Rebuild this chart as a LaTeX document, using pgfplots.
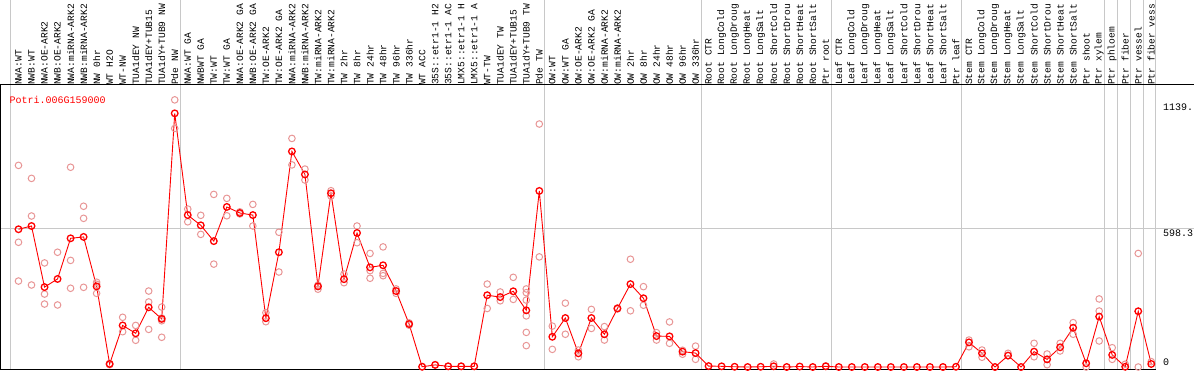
\documentclass[border=0pt]{standalone}
\usepackage{pgfplots}
\pgfplotsset{compat=1.18}
\usepackage{fontspec}
\setmonofont{Liberation Mono}
\definecolor{rep}{RGB}{232,150,150}
\definecolor{grid}{RGB}{200,200,200}
\newcommand{\lf}{\ttfamily\fontsize{10}{12}\selectfont}
\newcommand{\tf}{\ttfamily\fontsize{9.6}{12}\selectfont}
\begin{document}
\begin{tikzpicture}
\useasboundingbox (0,0) rectangle (1194pt,370pt);
\clip (0,0) rectangle (1194pt,370pt);
\begin{axis}[at={(0pt,1pt)}, anchor=south west, scale only axis,
  width=1156pt, height=284pt,
  xmin=-1.42, xmax=87.36, ymin=-8.6, ymax=1214,
  clip=false, axis line style={draw=none},
  ytick=\empty,
  xtick={0,...,87},
  xticklabel pos=upper,
  major tick length=0pt,
  xticklabel style={rotate=90, anchor=west, font=\tf, inner sep=0pt},
  xticklabels={NWA:WT,NWB:WT,NWA:OE-ARK2,NWB:OE-ARK2,NWA:miRNA-ARK2,NWB:miRNA-ARK2,NW 0hr,WT H2O,WT-NW,TUA1dEY NW,TUA1dEY+TUB15,TUA1dY+TUB9 NW,Pde NW,
  NWA:WT GA,NWBWT GA,TW:WT,TW:WT GA,NWA:OE-ARK2 GA,NWB:OE-ARK2 GA,TW:OE-ARK2,TW:OE-ARK2 GA,NWA:miRNA-ARK2,NWB:miRNA-ARK2,TW:miRNA-ARK2,TW:miRNA-ARK2,TW 2hr,TW 8hr,TW 24hr,TW 48hr,TW 96hr,TW 336hr,WT ACC,35S::etr1-1 H2,35S::etr1-1 AC,LMX5::etr1-1 H,LMX5::etr1-1 A,WT-TW,TUA1dEY TW,TUA1dEY+TUB15,TUA1dY+TUB9 TW,Pde TW,
  OW:WT,OW:WT GA,OW:OE-ARK2,OW:OE-ARK2 GA,OW:miRNA-ARK2,OW:miRNA-ARK2,OW 2hr,OW 8hr,OW 24hr,OW 48hr,OW 96hr,OW 336hr,
  Root CTR,Root LongCold,Root LongDroug,Root LongHeat,Root LongSalt,Root ShortCold,Root ShortDrou,Root ShortHeat,Root ShortSalt,Ptr root,
  Leaf CTR,Leaf LongCold,Leaf LongDroug,Leaf LongHeat,Leaf LongSalt,Leaf ShortCold,Leaf ShortDrou,Leaf ShortHeat,Leaf ShortSalt,Ptr leaf,
  Stem CTR,Stem LongCold,Stem LongDroug,Stem LongHeat,Stem LongSalt,Stem ShortCold,Stem ShortDrou,Stem ShortHeat,Stem ShortSalt,Ptr shoot,Ptr xylem,Ptr phloem,Ptr fiber,Ptr vessel,Ptr fiber vess},
]
% grid lines
\draw[grid, line width=1pt] (axis cs:-0.58,-8.6) -- (axis cs:-0.58,1700);
\draw[grid, line width=1pt] (axis cs:12.42,-8.6) -- (axis cs:12.42,1700);
\draw[grid, line width=1pt] (axis cs:40.42,-8.6) -- (axis cs:40.42,1700);
\draw[grid, line width=1pt] (axis cs:52.42,-8.6) -- (axis cs:52.42,1700);
\draw[grid, line width=1pt] (axis cs:62.42,-8.6) -- (axis cs:62.42,1700);
\draw[grid, line width=1pt] (axis cs:72.42,-8.6) -- (axis cs:72.42,1700);
\draw[grid, line width=1pt] (axis cs:83.42,-8.6) -- (axis cs:83.42,1700);
\draw[grid, line width=1pt] (axis cs:84.42,-8.6) -- (axis cs:84.42,1700);
\draw[grid, line width=1pt] (axis cs:85.42,-8.6) -- (axis cs:85.42,1700);
\draw[grid, line width=1pt] (axis cs:86.42,-8.6) -- (axis cs:86.42,1700);
\draw[grid, line width=1pt] (axis cs:87.36,-8.6) -- (axis cs:87.36,1700);
\draw[grid, line width=1pt] (axis cs:-1.42,598.3) -- (axis cs:91,598.3);
% frame
\draw[black, line width=1pt] (axis cs:-1.42,1214) -- (axis cs:91,1214);
\draw[black, line width=1pt] (axis cs:-1.42,1214) -- (axis cs:-1.42,-8.6) -- (axis cs:87.36,-8.6);
% replicates
\addplot[only marks, mark=o, mark size=3.3pt, mark options={draw=rep, line width=1pt}] coordinates {
(0,868)(0,537)(0,370)
(1,812)(1,650)(1,353)
(2,448)(2,314)(2,271)
(3,494)(3,267)
(4,860)(4,459)(4,339)
(5,692)(5,640)(5,343)
(6,365)(6,356)(6,317)
(7,15)(7,10)
(8,214)(8,152)
(9,179)(9,115)
(10,327)(10,280)(10,162)
(11,258)(11,211)(11,199)(11,128)
(12,1150)(12,1027)
(13,680)(13,625)
(14,653)(14,571)
(15,743)(15,443)
(16,726)(16,651)
(17,668)(17,659)
(18,700)(18,607)
(19,234)(19,195)
(20,580)(20,409)
(21,984)(21,870)
(22,852)(22,805)
(23,352)(23,335)
(24,759)(24,736)
(25,400)(25,363)
(26,607)(26,535)
(27,489)(27,415)(27,382)
(28,517)(28,403)(28,393)
(29,336)(29,317)
(30,190)(30,180)
(31,2)(32,10)(33,3)(34,3)(35,3)
(36,357)(36,252)
(37,323)(37,285)
(38,386)(38,291)
(39,336)(39,320)(39,288)(39,220)(39,149)(39,92)
(40,1046)(40,474)
(41,176)(41,76)
(42,275)(42,141)
(43,73)(43,44)
(44,248)(44,166)
(45,174)(45,116)
(46,254)(46,250)
(47,464)(47,242)
(48,346)(48,266)
(49,148)(49,116)
(50,194)(50,102)
(51,72)(51,55)
(52,90)(52,33)
(58,13)(62,5)
(73,116)(73,87)
(74,73)(74,42)
(76,59)
(78,102)(78,44)
(79,56)(79,10)
(80,102)(80,69)
(81,191)(81,141)
(82,0)
(83,293)(83,241)(83,112)
(84,83)(84,33)
(85,12)
(86,489)(86,0)
(87,23)
};
% means
\addplot[red, line width=0.9pt, mark=o, mark size=3.3pt, mark options={draw=red, line width=1.3pt}] coordinates {
(0,593)(1,607)(2,344)(3,379)(4,554)(5,560)(6,347)(7,13)(8,179)(9,145)(10,257)(11,207)(12,1092)
(13,654)(14,610)(15,542)(16,689)(17,663)(18,654)(19,210)(20,494)(21,928)(22,829)(23,347)(24,748)
(25,378)(26,577)(27,429)(28,438)(29,327)(30,185)(31,1)(32,9)(33,3)(34,3)(35,3)(36,309)(37,301)
(38,326)(39,244)(40,758)(41,130)(42,211)(43,59)(44,211)(45,141)(46,252)(47,357)(48,296)(49,133)
(50,132)(51,66)(52,60)(53,4)(54,3)(55,1)(56,0)(57,1)(58,3)(59,0)(60,2)(61,0)(62,3)
(63,0)(64,0)(65,0)(66,0)(67,0)(68,0)(69,0)(70,0)(71,0)(72,1)
(73,106)(74,59)(75,0)(76,49)(77,0)(78,66)(79,33)(80,85)(81,169)(82,16)(83,217)(84,52)(85,1)(86,240)(87,13)
};
\end{axis}
\node[anchor=base west, inner sep=0pt, text=red, font=\lf] at (9.5pt,266pt) {Potri.006G159000};
\node[anchor=base west, inner sep=0pt, font=\lf] at (1163pt,259pt) {1139.};
\node[anchor=base west, inner sep=0pt, font=\lf] at (1163pt,134pt) {598.3};
\node[anchor=base west, inner sep=0pt, font=\lf] at (1163pt,5pt) {0};
\end{tikzpicture}
\end{document}
